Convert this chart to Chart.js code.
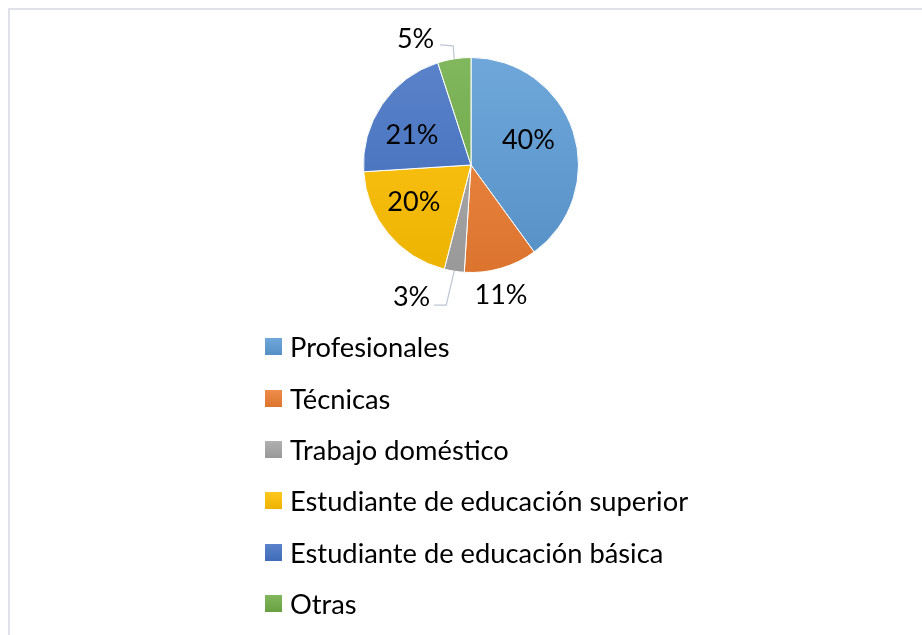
<!DOCTYPE html>
<html>
<head>
<meta charset="utf-8">
<script src="https://cdn.jsdelivr.net/npm/chart.js@4.4.1/dist/chart.umd.min.js"></script>
<style>
  html, body { margin: 0; padding: 0; background: #fff; }
  #wrap { position: relative; width: 922px; height: 635px; overflow: hidden; }
  #frame {
    position: absolute; left: 8px; top: 8px; right: -4px; bottom: -4px;
    border-left: 2px solid #dfe2e8; border-top: 2px solid #dfe2e8;
  }
  #chartBox { position: absolute; left: 0; top: 0; width: 922px; height: 635px; }
  #legend {
    position: absolute; left: 265px; top: 321px; margin: 0; padding: 0; list-style: none;
    font-family: Lato, "Liberation Sans", sans-serif; font-size: 27.3px; color: #000;
  }
  #legend li { display: flex; align-items: center; height: 51.35px; white-space: nowrap; }
  #legend .sw { width: 17px; height: 17px; margin-right: 8px; flex: none; }
</style>
</head>
<body>
<div id="wrap">
  <div id="frame"></div>
  <div id="chartBox"><canvas id="pie"></canvas></div>
  <ul id="legend"></ul>
</div>
<script>
const categories = [
  "Profesionales",
  "Técnicas",
  "Trabajo doméstico",
  "Estudiante de educación superior",
  "Estudiante de educación básica",
  "Otras"
]
const shares = [40, 11, 3, 20, 21, 5]
const baseColors = ["#5b9bd5", "#ed7d31", "#a5a5a5", "#ffc000", "#4472c4", "#70ad47"]

// label placement: inside or outside the slice, plus a small nudge
const labelMode = ["in", "out", "out", "in", "in", "out"]
const labelNudge = [[-7, -5], [0, 26], [0, 0], [-5, -7], [-3, 7], [0, 0]]
// leader lines for the small outside slices: elbow, end, text anchor (right edge, middle)
const leaders = {
  2: { elbow: [-8, 34], end: [-20, 34], text: [-24, 25] },
  5: { elbow: [-1, -13], end: [-14, -14], text: [-20, -21] }
}

const FONT = 'Lato, "Liberation Sans", sans-serif'
const LABEL_SIZE = 27

function mix(hex, target, t) {
  const n = parseInt(hex.slice(1), 16)
  const c = [(n >> 16) & 255, (n >> 8) & 255, n & 255]
  const out = c.map(v => Math.round(v + (target - v) * t))
  return `rgb(${out[0]},${out[1]},${out[2]})`
}

function sliceFill(ctx) {
  const chart = ctx.chart
  const area = chart.chartArea
  const base = baseColors[ctx.dataIndex]
  if (!area) return base
  const g = chart.ctx.createLinearGradient(0, area.top, 0, area.bottom)
  g.addColorStop(0, mix(base, 255, 0.12))
  g.addColorStop(1, mix(base, 0, 0.07))
  return g
}

const pieLabels = {
  id: "pieLabels",
  afterDatasetsDraw(chart) {
    const ctx = chart.ctx
    const meta = chart.getDatasetMeta(0)
    const values = chart.data.datasets[0].data
    const total = values.reduce((a, b) => a + b, 0)
    ctx.save()
    ctx.font = `${LABEL_SIZE}px ${FONT}`
    ctx.fillStyle = "#000"
    const capH = ctx.measureText("4").actualBoundingBoxAscent
    meta.data.forEach((arc, i) => {
      const { x, y, startAngle, endAngle, outerRadius } = arc.getProps(
        ["x", "y", "startAngle", "endAngle", "outerRadius"], true)
      const mid = (startAngle + endAngle) / 2
      const text = Math.round(values[i] / total * 100) + "%"
      let tx, ty, align = "center"
      if (labelMode[i] === "in") {
        const r = outerRadius * 0.63
        tx = x + Math.cos(mid) * r + labelNudge[i][0]
        ty = y + Math.sin(mid) * r + labelNudge[i][1]
      } else {
        const ax = x + Math.cos(mid) * outerRadius
        const ay = y + Math.sin(mid) * outerRadius
        const lead = leaders[i]
        if (lead) {
          ctx.strokeStyle = "#bcc6d3"
          ctx.lineWidth = 1.2
          ctx.beginPath()
          ctx.moveTo(ax, ay)
          ctx.lineTo(ax + lead.elbow[0], ay + lead.elbow[1])
          ctx.lineTo(ax + lead.end[0], ay + lead.end[1])
          ctx.stroke()
          tx = ax + lead.text[0]
          ty = ay + lead.text[1]
          align = "right"
        } else {
          tx = ax + labelNudge[i][0]
          ty = ay + labelNudge[i][1]
        }
      }
      ctx.textAlign = align
      ctx.textBaseline = "alphabetic"
      ctx.fillText(text, tx, ty + capH / 2)
    })
    ctx.restore()
  }
}

const chart = new Chart(document.getElementById("pie"), {
  type: "pie",
  data: {
    labels: categories,
    datasets: [{
      data: shares,
      backgroundColor: sliceFill,
      borderColor: "#fff",
      borderWidth: 1
    }]
  },
  options: {
    responsive: true,
    maintainAspectRatio: false,
    animation: false,
    layout: { padding: { top: 57, bottom: 362, left: 20, right: 0 } },
    plugins: {
      legend: { display: false },
      tooltip: { enabled: false }
    }
  },
  plugins: [pieLabels]
})

// legend list under the pie, one entry per line
const legendEl = document.getElementById("legend")
categories.forEach((name, i) => {
  const li = document.createElement("li")
  const sw = document.createElement("span")
  sw.className = "sw"
  sw.style.background = `linear-gradient(${mix(baseColors[i], 255, 0.12)}, ${mix(baseColors[i], 0, 0.07)})`
  li.appendChild(sw)
  li.appendChild(document.createTextNode(name))
  legendEl.appendChild(li)
})
</script>
</body>
</html>
